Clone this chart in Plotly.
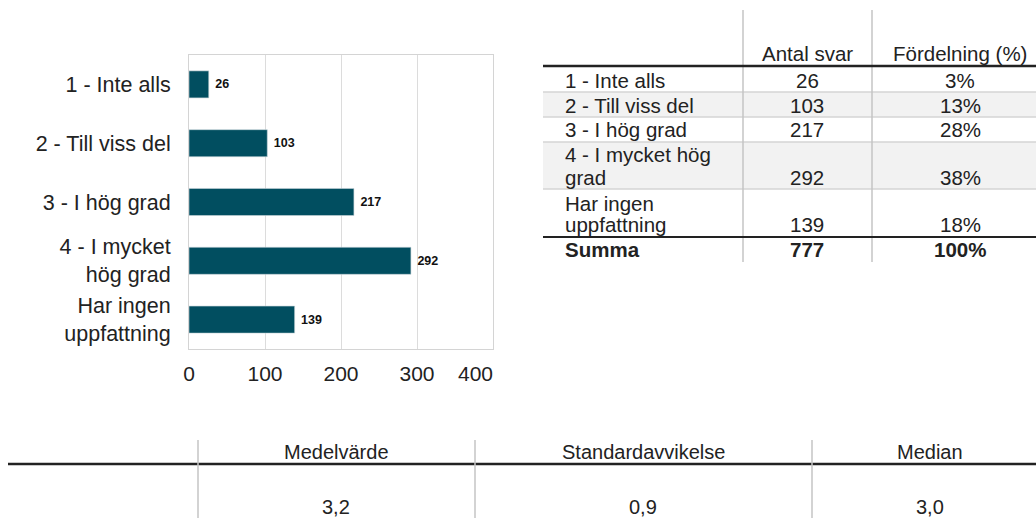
import plotly.graph_objects as go

# ---- data ----
categories = ["1 - Inte alls", "2 - Till viss del", "3 - I hög grad",
              "4 - I mycket<br>hög grad", "Har ingen<br>uppfattning"]
table_labels = ["1 - Inte alls", "2 - Till viss del", "3 - I hög grad",
                "4 - I mycket hög<br>grad", "Har ingen<br>uppfattning"]
counts = [26, 103, 217, 292, 139]
percents = ["3%", "13%", "28%", "38%", "18%"]
total_label = "Summa"
total_count = "777"
total_percent = "100%"
col_headers = ["Antal svar", "Fördelning (%)"]
stat_names = ["Medelvärde", "Standardavvikelse", "Median"]
stat_values = ["3,2", "0,9", "3,0"]
x_ticks = [0, 100, 200, 300, 400]

W, H = 1036, 518
FONT = "Liberation Sans, Arial, sans-serif"
BAR = "#014e60"


def px(x):
    return x / W


def py(y):
    return 1 - y / H


fig = go.Figure()
fig.add_trace(go.Bar(
    y=categories, x=counts, orientation="h",
    marker=dict(color=BAR, line=dict(width=0.6, color="#c8d4d8")),
    width=0.46,
    text=[f" <b>{c}</b>" for c in counts], textposition="outside",
    textfont=dict(family=FONT, size=12.5, color="#111"),
    cliponaxis=False, showlegend=False,
))

shapes = []
annots = []


def line(x0, y0, x1, y1, color, width):
    shapes.append(dict(type="line", xref="paper", yref="paper",
                       x0=px(x0), y0=py(y0), x1=px(x1), y1=py(y1),
                       line=dict(color=color, width=width), layer="above"))


def rect(x0, y0, x1, y1, fill):
    shapes.append(dict(type="rect", xref="paper", yref="paper",
                       x0=px(x0), y0=py(y0), x1=px(x1), y1=py(y1),
                       fillcolor=fill, line=dict(width=0), layer="below"))


def text(x, y, s, anchor="center", size=20.5, yanchor="middle"):
    annots.append(dict(xref="paper", yref="paper", x=px(x), y=py(y), text=s,
                       showarrow=False, xanchor=anchor, yanchor=yanchor,
                       align="left" if anchor == "left" else "center",
                       font=dict(family=FONT, size=size, color="#222")))


# last x tick label sits inside the frame, as in the reference
tick_text = [str(t) for t in x_ticks[:-1]] + [""]
annots.append(dict(xref="x", yref="paper", x=x_ticks[-1], y=py(373),
                   text=str(x_ticks[-1]), showarrow=False, xanchor="center",
                   yanchor="middle", xshift=-18,
                   font=dict(family=FONT, size=21, color="#222")))

# ---- top-right table ----
TL, TR = 543, 1036
rect(TL, 92, TR, 117, "#f2f2f2")
rect(TL, 142, TR, 189, "#f2f2f2")
for yy in [92, 117, 142, 189]:
    line(TL, yy, TR, yy, "#d4d4d4", 1.5)
line(743, 10, 743, 262, "#c4c4c4", 1.5)
line(872, 10, 872, 262, "#c4c4c4", 1.5)
line(TL, 66, TR, 66, "#222", 2.5)
line(TL, 237, TR, 237, "#222", 2)

c1, c2 = 807, 960
text(c1, 53, col_headers[0])
text(c2, 53, col_headers[1])
# y centre of each text line in every row (one line per annotation)
row_lines = [[80], [105], [129], [155, 177.5], [203.5, 224.5]]
for lab, cnt, pct, ys in zip(table_labels, counts, percents, row_lines):
    for part, yl in zip(lab.split("<br>"), ys):
        text(563, yl, part, anchor="left")
    text(c1, ys[-1], str(cnt))
    text(c2, ys[-1], pct)
text(563, 250, f"<b>{total_label}</b>", anchor="left")
text(c1, 250, f"<b>{total_count}</b>")
text(c2, 250, f"<b>{total_percent}</b>")

# ---- bottom stats table ----
line(8, 464, W, 464, "#222", 2.5)
for xx in [198, 475, 812]:
    line(xx, 440, xx, H, "#c4c4c4", 1.5)
stat_centers = [336, 643, 930]
for xc, name, val in zip(stat_centers, stat_names, stat_values):
    text(xc, 452, name, size=20)
    text(xc, 507, val, size=20)

fig.update_layout(
    width=W, height=H, autosize=False,
    margin=dict(l=0, r=0, t=0, b=0, pad=0, autoexpand=False),
    paper_bgcolor="white", plot_bgcolor="white",
    font=dict(family=FONT, color="#222"),
    shapes=shapes, annotations=annots,
    bargap=0.54, showlegend=False,
    xaxis=dict(domain=[px(189), px(493)], range=[0, 400],
               tickvals=x_ticks, ticktext=tick_text,
               showgrid=True, gridcolor="#dcdcdc", gridwidth=1,
               showline=True, linecolor="#d4d4d4", linewidth=1, mirror=True,
               zeroline=False, ticks="", ticklabelstandoff=6, automargin=False,
               tickfont=dict(family=FONT, size=21, color="#222"),
               fixedrange=True),
    yaxis=dict(domain=[py(349), py(55)], autorange="reversed",
               showline=True, linecolor="#d4d4d4", linewidth=1, mirror=True,
               showgrid=False, ticks="", ticklabelstandoff=13, automargin=False,
               tickfont=dict(family=FONT, size=21.5, color="#222"),
               fixedrange=True),
)

fig.write_html(
    "out.html",
    config=dict(displayModeBar=False),
    post_script="document.body.style.margin='0';document.body.style.overflow='hidden';",
)
